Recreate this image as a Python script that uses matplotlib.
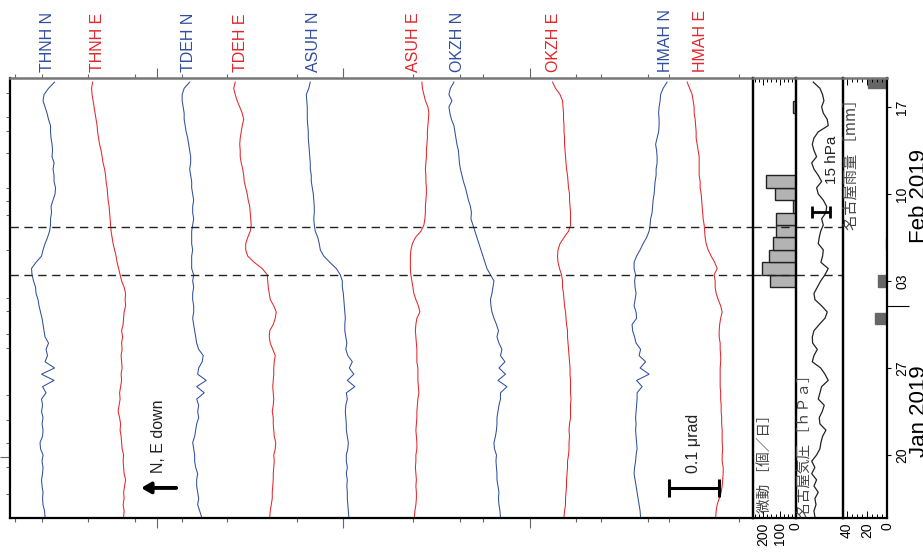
import numpy as np
import matplotlib
matplotlib.use("Agg")
import matplotlib.pyplot as plt
from matplotlib.transforms import blended_transform_factory, offset_copy

LATIN = ['Liberation Sans', 'DejaVu Sans']
CJK = ['Noto Sans CJK JP', 'DejaVu Sans']
plt.rcParams['font.family'] = LATIN

# ---------------- data ----------------
# time: day of year 2019 (Jan 1 = 1), 12-hourly samples
t = np.arange(15.0, 50.01, 0.5)

# tilt change relative to Jan 15 [nrad]
thnh_n = [0, -1, -4, -5, -4, -6, -7, -5, -4, -6, -4, -9, -10, -5, -4, -6, -4, -7, -5, -7,
          2, -5, 18, -7, 19, 0, 5, 2, 7, 0, -2, -4, -6, -9, -12, -14, -18, -19, -23, -26,
          -27, -18, -7, -4, 0, 5, 9, 11, 11, 13, 12, 16, 20, 21, 18, 18, 16, 18, 14, 15,
          14, 12, 11, 11, 7, 4, 0, -4, -2, 7, 19]
thnh_e = [0, 1, -1, 1, 0, 2, 4, 1, 0, -1, 0, -3, -4, -5, -7, -6, -8, -11, -9, -7,
          -8, -6, -4, -5, -3, -4, -5, -3, -4, -2, -4, -1, 0, 1, 4, 3, 4, 1, -4, -7,
          -10, -13, -15, -18, -21, -23, -25, -26, -27, -28, -29, -31, -32, -33, -35, -36, -38, -41, -43, -45,
          -48, -50, -52, -53, -55, -57, -59, -61, -63, -64, -62]
tdeh_n = [0, -4, -8, -6, -8, -10, -10, -8, -12, -14, -14, -16, -18, -14, -12, -10, -6, -8, -6, -10,
          5, -10, 9, -8, -6, 1, 3, -6, -10, -12, -14, -16, -18, -16, -16, -18, -18, -16, -18, -16,
          -20, -20, -20, -18, -20, -20, -20, -18, -16, -18, -18, -16, -18, -20, -20, -22, -24, -22, -22, -24,
          -26, -28, -31, -33, -35, -35, -37, -39, -39, -35, -24]
tdeh_e = [0, 1, 3, 5, 5, 6, 7, 7, 8, 9, 8, 11, 12, 9, 8, 7, 7, 5, 7, 8,
          7, 6, 7, 8, 8, 9, 11, 6, 1, -1, 0, 7, 11, 13, 8, 1, -1, -3, -4, -5,
          -15, -31, -44, -48, -48, -44, -39, -37, -38, -39, -40, -43, -45, -48, -51, -52, -54, -57, -59, -59,
          -60, -59, -57, -55, -52, -55, -60, -65, -69, -72, -69]
asuh_n = [0, -1, -2, -3, -3, -4, -3, -5, -3, -5, -5, -2, -1, -3, -5, -5, -6, -7, -6, -3,
          -5, 12, -3, 10, 1, 7, -2, -6, -4, -6, -8, -8, -7, -8, -9, -10, -11, -13, -13, -17,
          -25, -38, -50, -57, -59, -62, -67, -69, -70, -69, -69, -70, -71, -73, -75, -75, -77, -77, -78, -79,
          -80, -81, -81, -82, -83, -83, -83, -84, -85, -80, -77]
asuh_e = [0, 1, 3, 4, 4, 3, 4, 3, 2, 3, 3, 5, 5, 4, 3, 4, 5, 5, 6, 7,
          9, 8, 7, 7, 7, 5, 5, 5, 4, 3, 2, 3, 5, 11, 8, 3, -1, -3, -5, -7,
          -8, -8, -8, -7, -4, 2, 13, 19, 21, 22, 22, 23, 24, 24, 23, 23, 22, 23, 24, 24,
          25, 26, 26, 27, 28, 29, 27, 22, 19, 16, 15]
okzh_n = [0, -1, -3, -4, -3, -5, -7, -7, -8, -9, -8, -12, -13, -10, -8, -7, -7, -5, -3, 0,
          0, 13, -5, 10, -3, 9, 0, 3, -3, -7, -4, -8, -13, -17, -19, -20, -17, -15, -13, -20,
          -27, -31, -35, -39, -43, -47, -51, -55, -59, -58, -60, -64, -67, -70, -74, -77, -80, -82, -83, -84,
          -87, -89, -91, -93, -98, -101, -103, -97, -103, -100, -93]
okzh_e = [0, 1, 3, 3, 4, 5, 5, 6, 7, 7, 9, 10, 10, 11, 10, 11, 13, 13, 13, 14,
          13, 13, 13, 12, 12, 11, 10, 9, 8, 7, 7, 5, 4, 3, 1, 0, -1, -3, -3, -5,
          -9, -12, -13, -12, -8, 0, 9, 13, 13, 13, 12, 11, 11, 9, 8, 7, 5, 4, 3, 2,
          1, 1, 0, 0, -1, -1, -2, -3, -8, -17, -23]
hmah_n = [0, -1, -3, -5, -7, -9, -11, -13, -12, -10, -9, -7, -8, -9, -10, -9, -10, -9, -8, -7,
          -7, 3, -8, 17, -1, 10, -3, 0, -9, -12, -16, -17, -8, -9, -13, -11, -9, -11, -12, -10,
          -13, -13, -8, -1, 5, 12, 17, 19, 20, 23, 24, 25, 27, 28, 29, 31, 31, 33, 33, 32,
          30, 33, 36, 37, 37, 36, 37, 39, 40, 45, 53]
hmah_e = [0, 1, 3, 7, 11, 13, 14, 15, 15, 13, 13, 14, 13, 13, 13, 12, 12, 11, 11, 10,
          10, 9, 9, 9, 9, 10, 10, 9, 9, 7, 7, 8, 10, 13, 10, 5, 1, -1, -1, -3,
          3, -2, -9, -15, -19, -21, -22, -23, -25, -26, -27, -28, -29, -31, -31, -33, -33, -33, -33, -35,
          -37, -39, -39, -40, -41, -43, -43, -45, -47, -52, -57]

stations = ["THNH N", "THNH E", "TDEH N", "TDEH E", "ASUH N",
            "ASUH E", "OKZH N", "OKZH E", "HMAH N", "HMAH E"]
series = [thnh_n, thnh_e, tdeh_n, tdeh_e, asuh_n, asuh_e, okzh_n, okzh_e, hmah_n, hmah_e]

# Nagoya pressure [hPa], same sampling as t
pressure = [1007.8, 1007.0, 1008.7, 1007.8, 1010.6, 1007.0, 1009.2, 1005.1, 1007.8, 1005.1,
            1009.2, 1012.0, 1012.8, 1014.2, 1017.0, 1012.0, 1011.4, 1013.9, 1015.6, 1010.6,
            1012.0, 1013.4, 1018.9, 1016.2, 1012.6, 1005.6, 1007.0, 1009.8, 1005.9, 1005.6,
            1007.0, 1011.4, 1016.2, 1018.1, 1013.4, 1007.8, 1007.0, 1009.8, 1012.6, 1016.2,
            1018.9, 1012.8, 1014.2, 1014.8, 1010.6, 1011.4, 1012.6, 1014.8, 1013.4, 1017.0,
            1017.6, 1014.8, 1010.6, 1009.2, 1013.4, 1010.6, 1007.0, 1005.1, 1009.2, 1007.0,
            1005.6, 1007.0, 1010.6, 1018.9, 1018.1, 1014.8, 1013.4, 1015.3, 1014.2, 1012.0,
            1006.4]

# daily tremor counts
tremor_day = [34, 35, 36, 37, 38, 39, 40, 41, 42, 44, 48]
tremor_count = [158, 206, 166, 143, 125, 125, 19, 127, 185, 3, 19]

# daily Nagoya rainfall [mm]
rain_day = [31, 34, 37, 50]
rain_mm = [12, 9, 1, 19]

# slow-slip event boundaries (dashed)
event_days = [34.46, 38.37]

date_ticks = [20, 27, 34, 41, 48]
date_labels = ["20", "27", "03", "10", "17"]
month_ticks = [32]
month_labels = ["Jan 2019", "Feb 2019"]
month_label_days = [23.5, 40.8]

# ---------------- layout ----------------
W, H, DPI = 923, 558, 100
BLUE = '#2f4f9f'
RED = '#e3262b'
GREY_TXT = '#444444'

fig = plt.figure(figsize=(W / DPI, H / DPI), dpi=DPI)

def fbox(x0, x1, y0=78, y1=518):
    return [x0 / W, 1 - y1 / H, (x1 - x0) / W, (y1 - y0) / H]

ax = fig.add_axes(fbox(10, 752.7))
axm = fig.add_axes(fbox(752.7, 796))
axp = fig.add_axes(fbox(796, 842.7))
axr = fig.add_axes(fbox(842.7, 887))

TLIM = (14.93, 50.33)
for a in (ax, axm, axp, axr):
    a.set_ylim(*TLIM)
    a.set_facecolor('none')
    for s in a.spines.values():
        s.set_linewidth(1.6)
        s.set_color('black')
    a.spines['top'].set_color('#777777')
    a.spines['top'].set_linewidth(1.8)

# ---- main tilt panel ----
base = [70, 227, 383, 519, 677, 808, 980, 1107, 1260, 1410]
ax.set_xlim(0, 1484)
for name, vals, b in zip(stations, series, base):
    col = BLUE if name.endswith('N') else RED
    ax.plot(b + np.asarray(vals, float), t, color=col, lw=0.75)

label_x = [74, 174, 356, 460, 606, 806, 894, 1086, 1310, 1380]
trans_lab = offset_copy(blended_transform_factory(ax.transData, ax.transAxes),
                        fig=fig, x=0, y=6, units='dots')
for name, lx in zip(stations, label_x):
    col = BLUE if name.endswith('N') else RED
    ax.text(lx, 1.0, name, rotation=90, ha='center', va='bottom', color=col,
            fontsize=11.5, transform=trans_lab)

for ev in event_days:
    for a in (ax, axm, axp):
        a.axhline(ev, color='#222222', lw=1.0, ls=(0, (6, 4)))

# top / bottom ticks of the main panel
top_ticks = [10, 64, 156, 250, 344, 434, 574, 806, 900, 946, 1130, 1180, 1274, 1316, 1456]
long_ticks = [294, 666, 1040]
ax.set_xticks(top_ticks)
ax.set_xticks(long_ticks, minor=True)
ax.tick_params(axis='x', which='major', top=True, bottom=True, direction='out', length=3,
               width=0.8, color='#666666', labelbottom=False, labeltop=False)
ax.tick_params(axis='x', which='minor', top=True, bottom=True, direction='out', length=7,
               width=0.8, color='#666666')
left_ticks = [16.9, 19.0, 21.0, 22.8, 24.8, 28.6, 29.7, 31.6, 32.6, 36.5, 39.3, 40.4, 41.5,
              44.3, 46.1, 47.2, 49.1]
ax.set_yticks(left_ticks)
ax.set_yticks([19.8], minor=True)
ax.tick_params(axis='y', which='major', left=True, right=False, direction='out', length=3,
               width=0.8, color='#666666', labelleft=False)
ax.tick_params(axis='y', which='minor', left=True, direction='out', length=7,
               width=0.8, color='#666666')

# scale bar 0.1 urad
sb_t = 17.35
ax.plot([1316, 1416], [sb_t, sb_t], color='black', lw=2.2, solid_capstyle='butt')
for xe in (1316, 1416):
    ax.plot([xe, xe], [sb_t - 0.7, sb_t + 0.7], color='black', lw=2.2, solid_capstyle='butt')
ax.text(1366, 18.55, "0.1 \u03bcrad", rotation=90, ha='center', va='bottom', fontsize=11.5,
        color='#222222')

# polarity arrow
ax.annotate("", xy=(262, sb_t), xytext=(332, sb_t),
            arrowprops=dict(arrowstyle='-|>,head_length=0.55,head_width=0.32', lw=2.8,
                            color='black', shrinkA=0, shrinkB=0))
ax.text(296, 18.55, "N, E down", rotation=90, ha='center', va='bottom', fontsize=11.5,
        color='#222222')

# ---- tremor panel ----
axm.set_xlim(265, 0)
axm.barh(tremor_day, tremor_count, height=1.0, color='#b3b3b3', edgecolor='#222222', lw=1.0)
axm.set_xticks([200, 100, 0])
axm.set_xticklabels(["200", "100", "0"], rotation=90, fontsize=10)
axm.set_xticks(np.arange(0, 261, 25), minor=True)
axm.tick_params(axis='x', which='both', top=True, bottom=True, direction='in', length=3,
                width=0.7, pad=3)
axm.tick_params(axis='x', which='major', length=5)
axm.set_yticks([])
axm.text(0.3, 0.012, "微動 ［個／日］", rotation=90, ha='center', va='bottom', fontsize=10.5,
         family=CJK, color=GREY_TXT, transform=axm.transAxes)

# ---- pressure panel ----
axp.set_xlim(992, 1031)
axp.plot(pressure, t, color='#222222', lw=0.9)
axp.set_xticks([])
axp.set_yticks([])
sp_t = 39.55
axp.plot([1005, 1020], [sp_t, sp_t], color='black', lw=2.0, solid_capstyle='butt')
for xe in (1005, 1020):
    axp.plot([xe, xe], [sp_t - 0.5, sp_t + 0.5], color='black', lw=2.0, solid_capstyle='butt')
axp.text(1022, 41.8, "15 hPa", rotation=90, ha='center', va='bottom', fontsize=11,
         color='#222222')
axp.text(0.2, 0.003, "名古屋気圧 ［ｈＰａ］", rotation=90, ha='center', va='bottom',
         fontsize=10.5, family=CJK, color=GREY_TXT, transform=axp.transAxes)

# ---- rain panel ----
axr.set_xlim(44, 0)
axr.barh(rain_day, rain_mm, height=0.9, color='#666666', edgecolor='#666666')
axr.set_xticks([40, 20, 0])
axr.set_xticklabels(["40", "20", "0"], rotation=90, fontsize=10)
axr.set_xticks(np.arange(0, 45, 5), minor=True)
axr.tick_params(axis='x', which='both', top=True, bottom=True, direction='in', length=3,
                width=0.7, pad=3)
axr.tick_params(axis='x', which='major', length=5)
axr.yaxis.tick_right()
axr.set_yticks(date_ticks)
axr.set_yticklabels(date_labels, rotation=90, va='center', fontsize=10)
axr.set_yticks(month_ticks, minor=True)
axr.tick_params(axis='y', which='major', direction='out', length=3, width=0.8, pad=3)
axr.tick_params(axis='y', which='minor', direction='out', length=16, width=0.8)
axr.text(0.2, 0.655, "名古屋雨量 ［mm］", rotation=90, ha='center', va='bottom',
         fontsize=11, family=CJK, color=GREY_TXT, transform=axr.transAxes)

month_trans = blended_transform_factory(fig.transFigure, axr.transData)
for lab, tc in zip(month_labels, month_label_days):
    fig.text(909 / W, tc, lab, rotation=90, ha='left', va='center', fontsize=16,
             transform=month_trans)

fig.savefig("out.png", dpi=DPI)
